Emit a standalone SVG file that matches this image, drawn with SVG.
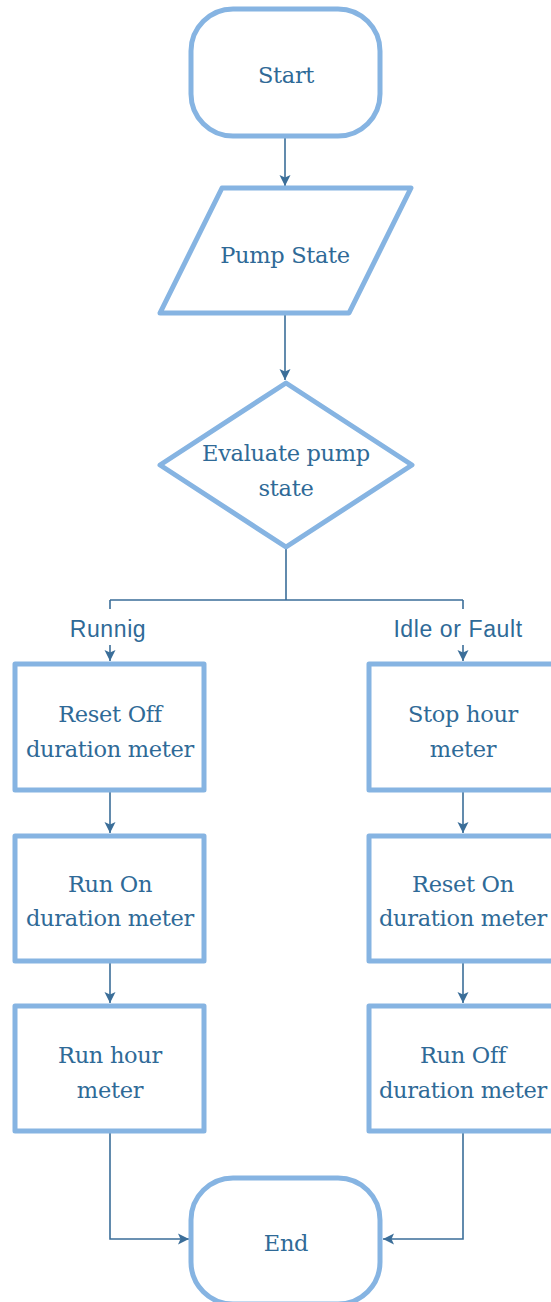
<svg xmlns="http://www.w3.org/2000/svg" width="551" height="1302" viewBox="0 0 551 1302">
<style>
.shape{fill:#ffffff;stroke:#86b4e2;stroke-width:5;stroke-linejoin:round}
.t{font-family:"DejaVu Serif","Liberation Serif",serif;font-size:22.5px;fill:#2f6a97;text-anchor:middle;letter-spacing:-0.3px}
.lbl{font-family:"Liberation Sans",Arial,sans-serif;font-size:23px;fill:#2f6a97;text-anchor:middle;letter-spacing:0.6px}
.c{fill:none;stroke:#3b6e99;stroke-width:1.6}
</style>
<defs>
<marker id="ah" markerUnits="userSpaceOnUse" markerWidth="14" markerHeight="14" viewBox="0 0 14 14" refX="12" refY="7" orient="auto">
<path d="M1,1.5 L12,7 L1,12.5 L3.5,7 Z" fill="#3b6e99"/>
</marker>
</defs>
<rect width="551" height="1302" fill="#ffffff"/>
<g id="connectors">
<path class="c" d="M285,137 V186" marker-end="url(#ah)"/>
<path class="c" d="M285,314 V380" marker-end="url(#ah)"/>
<path class="c" d="M286,549 V600 M110,600 H463 M110,600 V609 M463,600 V609"/>
<path class="c" d="M110,645 V661" marker-end="url(#ah)"/>
<path class="c" d="M463,645 V661" marker-end="url(#ah)"/>
<path class="c" d="M110,791 V833" marker-end="url(#ah)"/>
<path class="c" d="M110,962 V1003" marker-end="url(#ah)"/>
<path class="c" d="M463,791 V833" marker-end="url(#ah)"/>
<path class="c" d="M463,962 V1003" marker-end="url(#ah)"/>
<path class="c" d="M110,1132 V1239 H189" marker-end="url(#ah)"/>
<path class="c" d="M463,1132 V1239 H383" marker-end="url(#ah)"/>
</g>
<g id="start">
<rect class="shape" x="191" y="9" width="189" height="127" rx="42" ry="42"/>
<text class="t" x="286" y="83">Start</text>
</g>
<g id="pump-state">
<polygon class="shape" points="222,188 411,188 349,313 160,313"/>
<text class="t" x="285" y="263">Pump State</text>
</g>
<g id="evaluate">
<polygon class="shape" points="286,383 412,465 286,547 160,465"/>
<text class="t" x="286" y="461">Evaluate pump</text>
<text class="t" x="286" y="496">state</text>
</g>
<g id="label-running">
<text class="lbl" x="108" y="637">Runnig</text>
</g>
<g id="label-idle">
<text class="lbl" x="458" y="637">Idle or Fault</text>
</g>
<g id="reset-off">
<rect class="shape" x="15" y="664" width="189" height="126"/>
<text class="t" x="110" y="722">Reset Off</text>
<text class="t" x="110" y="757">duration meter</text>
</g>
<g id="run-on">
<rect class="shape" x="15" y="836" width="189" height="125"/>
<text class="t" x="110" y="892">Run On</text>
<text class="t" x="110" y="926">duration meter</text>
</g>
<g id="run-hour">
<rect class="shape" x="15" y="1006" width="189" height="125"/>
<text class="t" x="110" y="1063">Run hour</text>
<text class="t" x="110" y="1098">meter</text>
</g>
<g id="stop-hour">
<rect class="shape" x="369" y="664" width="189" height="126"/>
<text class="t" x="463" y="722">Stop hour</text>
<text class="t" x="463" y="757">meter</text>
</g>
<g id="reset-on">
<rect class="shape" x="369" y="836" width="189" height="125"/>
<text class="t" x="463" y="892">Reset On</text>
<text class="t" x="463" y="926">duration meter</text>
</g>
<g id="run-off">
<rect class="shape" x="369" y="1006" width="189" height="125"/>
<text class="t" x="463" y="1063">Run Off</text>
<text class="t" x="463" y="1098">duration meter</text>
</g>
<g id="end">
<rect class="shape" x="191" y="1178" width="189" height="126" rx="42" ry="42"/>
<text class="t" x="286" y="1251">End</text>
</g>
</svg>
